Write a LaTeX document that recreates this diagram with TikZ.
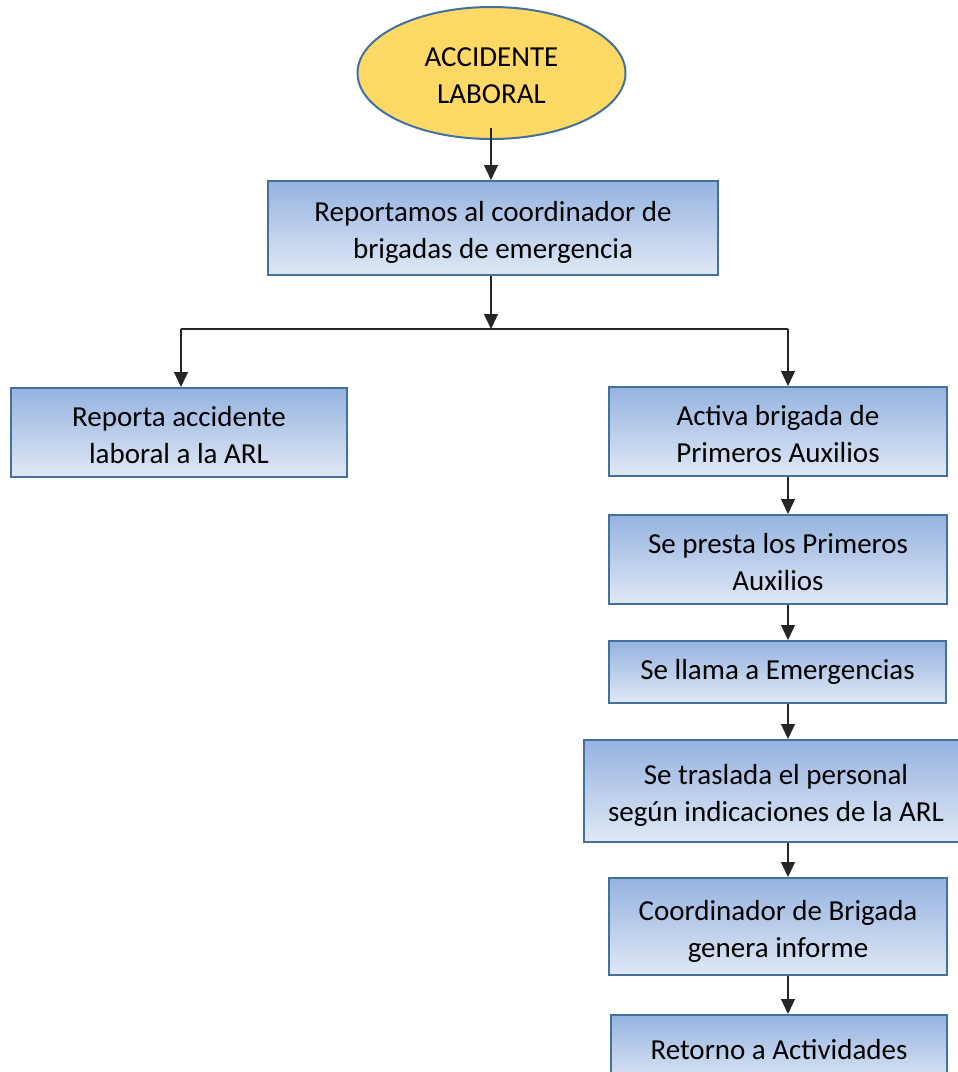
\documentclass[tikz,border=0pt]{standalone}
\usepackage{fontspec}
\setmainfont{Carlito}
\usetikzlibrary{arrows.meta,shapes.geometric}
\definecolor{bordblue}{HTML}{41719C}
\definecolor{topblue}{HTML}{95B3E0}
\definecolor{botblue}{HTML}{E0E8F5}
\definecolor{ellfill}{HTML}{FFD966}
\newcommand\mytopstrut{\rule{0pt}{31pt}}
\newcommand\mybotstrut{\rule[-7pt]{0pt}{7pt}}
\tikzset{
  stepbox/.style={draw=bordblue, line width=2pt, rectangle, top color=topblue, bottom color=botblue,
    align=center, inner sep=0pt, font=\fontsize{29}{37}\selectfont},
  startell/.style={draw=bordblue, line width=2pt, ellipse, fill=ellfill, inner sep=0pt,
    align=center, font=\fontsize{29}{37}\selectfont},
  conn/.style={draw=black!85, line width=1.3pt, -{Triangle[width=14pt,length=15pt]}},
  plain/.style={draw=black!85, line width=1.3pt}
}
\begin{document}
\begin{tikzpicture}[x=1pt,y=-1pt]
\useasboundingbox (0,0) rectangle (958,1072);
\node[startell, minimum width=268pt, minimum height=132pt] (ell) at (491.5,73) {\mytopstrut ACCIDENTE\\LABORAL\mybotstrut};
\node[stepbox, minimum width=450pt, minimum height=94pt] (b1) at (493,228) {\mytopstrut Reportamos al coordinador de\\brigadas de emergencia\mybotstrut};
\node[stepbox, minimum width=336pt, minimum height=89pt] (left) at (179,432.5) {\mytopstrut Reporta accidente\\laboral a la ARL\mybotstrut};
\node[stepbox, minimum width=338pt, minimum height=89pt] (act) at (778,431.5) {\mytopstrut Activa brigada de\\Primeros Auxilios\mybotstrut};
\node[stepbox, minimum width=338pt, minimum height=89pt] (presta) at (778,559.5) {\mytopstrut Se presta los Primeros\\Auxilios\mybotstrut};
\node[stepbox, minimum width=337pt, minimum height=62pt] (llama) at (777.5,672) {Se llama a Emergencias};
\node[stepbox, minimum width=384pt, minimum height=102pt] (trasl) at (776,791) {\mytopstrut Se traslada el personal\\según indicaciones de la ARL\mybotstrut};
\node[stepbox, minimum width=338pt, minimum height=97pt] (coord) at (778,926.5) {\mytopstrut Coordinador de Brigada\\genera informe\mybotstrut};
\node[stepbox, minimum width=336pt, minimum height=70pt] (ret) at (779,1050) {Retorno a Actividades};
\coordinate (j) at (491,329);
\coordinate (lc) at (181,329);
\coordinate (rc) at (788,329);
\draw[conn] ([yshift=12pt]ell.south -| j) -- (b1.north -| j);
\draw[conn] (b1.south -| j) -- (j);
\draw[plain] (lc) -- (rc);
\draw[conn] (lc) -- (left.north -| lc);
\draw[conn] (rc) -- (act.north -| rc);
\draw[conn] (act.south -| rc) -- (presta.north -| rc);
\draw[conn] (presta.south -| rc) -- (llama.north -| rc);
\draw[conn] (llama.south -| rc) -- (trasl.north -| rc);
\draw[conn] (trasl.south -| rc) -- (coord.north -| rc);
\draw[conn] (coord.south -| rc) -- (ret.north -| rc);
\end{tikzpicture}
\end{document}
